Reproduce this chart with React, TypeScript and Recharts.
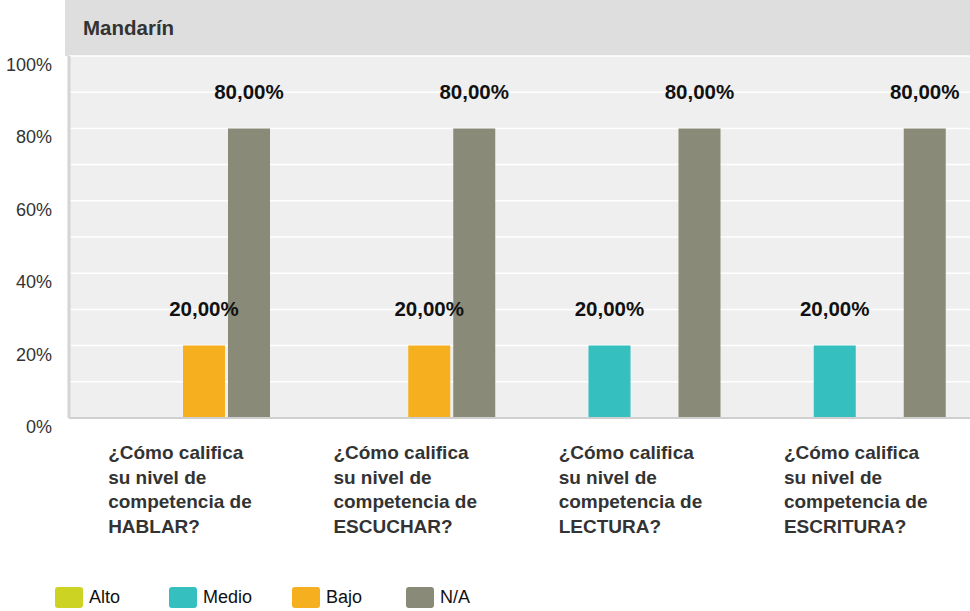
import React from "react";
import { Bar, BarChart, CartesianGrid, LabelList, XAxis, YAxis } from "recharts";

const categories = [
    "¿Cómo califica\nsu nivel de\ncompetencia de\nHABLAR?",
    "¿Cómo califica\nsu nivel de\ncompetencia de\nESCUCHAR?",
    "¿Cómo califica\nsu nivel de\ncompetencia de\nLECTURA?",
    "¿Cómo califica\nsu nivel de\ncompetencia de\nESCRITURA?",
];
const alto = [0, 0, 0, 0];
const medio = [0, 0, 20, 20];
const bajo = [20, 20, 0, 0];
const na = [80, 80, 80, 80];
const yTicks = [0, 10, 20, 30, 40, 50, 60, 70, 80, 90, 100];

const FONT = '"Liberation Sans", Arial, Helvetica, sans-serif';

const series = [
    { key: "alto", name: "Alto", color: "#cdd322", values: alto },
    { key: "medio", name: "Medio", color: "#35bfbf", values: medio },
    { key: "bajo", name: "Bajo", color: "#f6af1f", values: bajo },
    { key: "na", name: "N/A", color: "#8a8a78", values: na },
];

const rows = categories.map((c, i) => {
    const r: any = { cat: c };
    series.forEach((s) => { r[s.key] = s.values[i] });
    return r;
});

function YTick(props: any) {
    const { x, y, payload } = props;
    if (payload.value % 20 !== 0) return null;
    return (
        <text x={x} y={y + 9} textAnchor="end" dominantBaseline="central"
            fontFamily={FONT} fontSize={18} fill="#333">
            {payload.value}%
        </text>
    );
}

function XTick(props: any) {
    const { x, y, payload } = props;
    const lines = String(payload.value).split("\n");
    return (
        <text x={x - 73.5} y={y} fontFamily={FONT} fontSize={19} fontWeight="bold" fill="#333">
            {lines.map((l, i) => (
                <tspan key={i} x={x - 73.5} y={y + 39 + i * 24.7}>{l}</tspan>
            ))}
        </text>
    );
}

function ValueLabel(props: any) {
    const { x, y, width, value } = props;
    if (!value) return null;
    return (
        <text x={x + width / 2} y={y - 37} textAnchor="middle" dominantBaseline="central"
            fontFamily={FONT} fontSize={20.5} fontWeight="bold" fill="#111">
            {value.toFixed(2).replace(".", ",")}%
        </text>
    );
}

export default function App() {
    return (
        <div style={{ position: "relative", width: 970, height: 611, fontFamily: FONT, background: "#fff" }}>
            <style>{`body{margin:0}`}</style>
            <div style={{
                position: "absolute", left: 65, top: 0, width: 905, height: 56,
                background: "#dedede", color: "#333", fontWeight: "bold", fontSize: 20.5,
                lineHeight: "56px", paddingLeft: 18, boxSizing: "border-box",
            }}>
                Mandarín
            </div>
            <div style={{ position: "absolute", left: 0, top: 0 }}>
                <BarChart
                    width={970}
                    height={611}
                    data={rows}
                    margin={{ top: 56, right: 0, bottom: 163, left: 0 }}
                    barCategoryGap={24}
                    barGap={3}
                >
                    <CartesianGrid vertical={false} stroke="#ffffff" strokeWidth={1.5} fill="#efefef" />
                    <XAxis
                        dataKey="cat"
                        height={30}
                        interval={0}
                        tickLine={false}
                        tickSize={0}
                        axisLine={{ stroke: "#cfcfcf", strokeWidth: 2 }}
                        tick={<XTick />}
                    />
                    <YAxis
                        width={69}
                        domain={[0, 100]}
                        ticks={yTicks}
                        interval={0}
                        tickLine={false}
                        tickSize={0}
                        tickMargin={17}
                        axisLine={{ stroke: "#d4d4d4", strokeWidth: 3 }}
                        tick={<YTick />}
                    />
                    {series.map((s) => (
                        <Bar key={s.key} dataKey={s.key} name={s.name} fill={s.color} isAnimationActive={false}>
                            <LabelList dataKey={s.key} content={<ValueLabel />} />
                        </Bar>
                    ))}
                </BarChart>
            </div>
            <div style={{ position: "absolute", left: 55, top: 587, display: "flex", alignItems: "center" }}>
                {series.map((s) => (
                    <div key={s.key} style={{ display: "flex", alignItems: "center", marginRight: 40 }}>
                        <div style={{ width: 28, height: 21, borderRadius: 3, background: s.color, marginRight: 6 }} />
                        <span style={{ fontSize: 18, color: "#111", minWidth: 40 }}>{s.name}</span>
                    </div>
                ))}
            </div>
        </div>
    );
}
